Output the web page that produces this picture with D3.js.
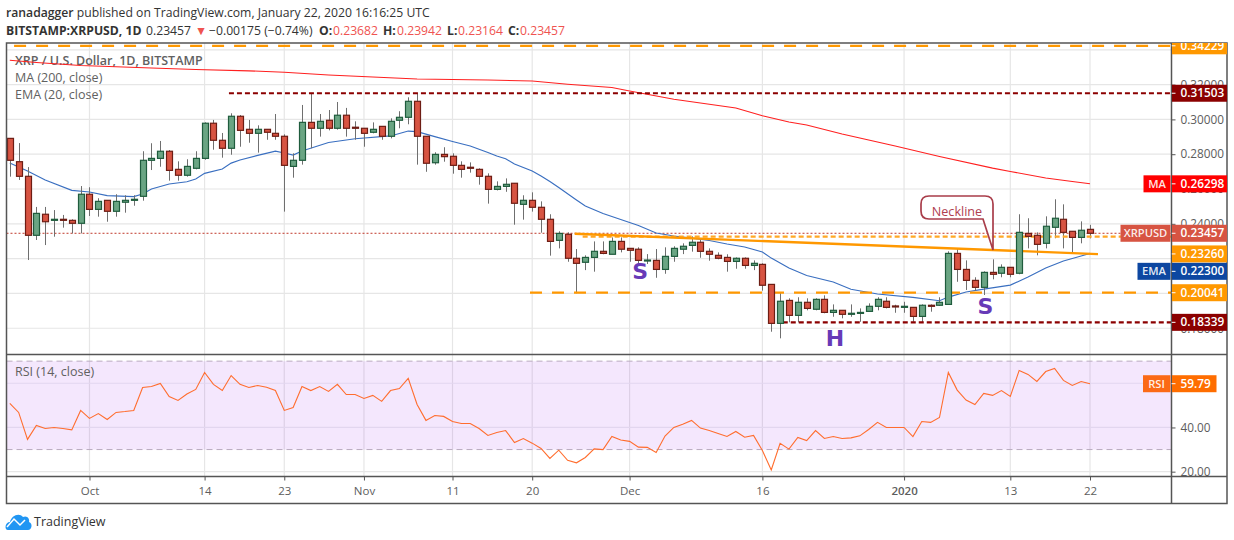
<!DOCTYPE html>
<html>
<head>
<meta charset="utf-8">
<script src="https://cdn.jsdelivr.net/npm/d3@7"></script>
<style>
body { margin: 0; background: #fff; }
svg { display: block; font-family: "Open Sans", sans-serif; }
</style>
</head>
<body>
<svg id="chart" width="1234" height="540"></svg>
<script>
// daily candles, Sep 22 2019 -> Jan 22 2020
var firstDay = "2019-09-22";

var open = [.2891,.2757,.2673,.2334,.2455,.2420,.2426,.2420,.2403,.2570,
  .2483,.2535,.2472,.2524,.2535,.2558,.2765,.2776,.2817,.2713,
  .2679,.2719,.2776,.2978,.2880,.2834,.3018,.2943,.2920,.2943,
  .2920,.2903,.2730,.2765,.2983,.2949,.2995,.2949,.3024,.2955,
  .2949,.2926,.2960,.2903,.2995,.3012,.3104,.2903,.2751,.2799,
  .2788,.2736,.2725,.2713,.2673,.2598,.2615,.2633,.2512,.2535,
  .2495,.2426,.2305,.2340,.2202,.2179,.2207,.2242,.2225,.2299,
  .2259,.2254,.2188,.2190,.2138,.2213,.2254,.2276,.2294,.2242,
  .2219,.2207,.2184,.2202,.2161,.2167,.2052,.1828,.1960,.1874,
  .1949,.1909,.1966,.1891,.1903,.1880,.1886,.1897,.1926,.1955,
  .1928,.1920,.1920,.1868,.1932,.1932,.1937,.2230,.2138,.2075,
  .2035,.2121,.2116,.2150,.2116,.2345,.2334,.2288,.2380,.2426,
  .2357,.2322,.23682];
var high = [.2893,.2864,.2726,.2497,.2497,.2479,.2451,.2426,.2617,.2610,
  .2547,.2535,.2570,.2564,.2564,.2817,.2863,.2876,.2824,.2759,
  .2771,.2817,.2983,.2997,.2922,.3035,.3025,.2997,.2966,.2943,
  .3031,.2914,.2805,.3083,.3152,.3031,.3054,.3100,.3066,.2989,
  .2949,.2983,.2960,.3006,.3047,.3127,.3150,.2903,.2811,.2840,
  .2805,.2759,.2753,.2719,.2690,.2644,.2661,.2633,.2564,.2581,
  .2529,.2455,.2357,.2351,.2255,.2219,.2299,.2299,.2322,.2322,
  .2259,.2265,.2226,.2255,.2265,.2271,.2288,.2328,.2311,.2259,
  .2236,.2225,.2207,.2207,.2190,.2173,.2052,.2006,.1972,.1978,
  .1972,.1972,.1989,.1937,.1903,.1937,.1914,.1943,.1978,.1978,
  .1935,.1952,.1920,.1937,.1937,.1978,.2242,.2259,.2190,.2093,
  .2127,.2196,.2167,.2150,.2455,.2432,.2351,.2443,.2541,.2512,
  .2357,.2414,.23942];
var low = [.2671,.2652,.2192,.2307,.2278,.2326,.2378,.2345,.2345,.2445,
  .2441,.2412,.2441,.2464,.2504,.2533,.2709,.2728,.2648,.2648,
  .2671,.2713,.2768,.2826,.2780,.2797,.2843,.2866,.2809,.2883,
  .2883,.2470,.2665,.2740,.2834,.2901,.2937,.2941,.2901,.2883,
  .2843,.2920,.2883,.2891,.2949,.2972,.2740,.2699,.2740,.2757,
  .2688,.2665,.2694,.2625,.2516,.2592,.2584,.2395,.2424,.2470,
  .2349,.2217,.2259,.2182,.2001,.2134,.2125,.2225,.2225,.2236,
  .2182,.2169,.2169,.2090,.2113,.2182,.2226,.2240,.2205,.2188,
  .2196,.2125,.2142,.2142,.2134,.2016,.1780,.1742,.1834,.1834,
  .1903,.1903,.1886,.1866,.1857,.1866,.1837,.1897,.1903,.1914,
  .1889,.1889,.1837,.1832,.1895,.1928,.1937,.2067,.2020,.2014,
  .1991,.2081,.2093,.2093,.2110,.2259,.2219,.2259,.2317,.2259,
  .2230,.2288,.23164];
var close = [.2765,.2673,.2334,.2460,.2412,.2426,.2420,.2403,.2570,.2483,
  .2529,.2472,.2529,.2535,.2541,.2765,.2776,.2817,.2707,.2679,
  .2730,.2776,.2978,.2880,.2834,.3018,.2937,.2920,.2943,.2926,
  .2903,.2736,.2765,.2983,.2949,.2989,.2949,.3024,.2949,.2949,
  .2920,.2943,.2903,.2989,.3012,.3104,.2903,.2748,.2799,.2786,
  .2736,.2713,.2719,.2673,.2598,.2615,.2627,.2518,.2535,.2495,
  .2426,.2299,.2345,.2202,.2173,.2207,.2242,.2230,.2299,.2254,
  .2248,.2190,.2192,.2138,.2213,.2259,.2271,.2294,.2242,.2225,
  .2202,.2184,.2202,.2161,.2173,.2047,.1828,.1955,.1874,.1949,
  .1914,.1966,.1891,.1903,.1880,.1886,.1891,.1926,.1966,.1920,
  .1924,.1926,.1868,.1932,.1926,.1949,.2230,.2138,.2075,.2035,
  .2121,.2110,.2150,.2110,.2351,.2328,.2282,.2386,.2432,.2351,
  .2322,.2363,.23457];

// moving averages, read at the candle numbers listed
var maDays = [0,3,8,16,21,27,31,36,41,46,54,59,63,68,70,75,78,82,85,88,90,94,100,105,111,113,117,120,122];
var maValues = [.3340,.3327,.3310,.3295,.3287,.3279,.3271,.3255,.3244,.3232,.3226,.3221,.3202,.3183,.3163,
  .3116,.3094,.3066,.3021,.2985,.2968,.2916,.2847,.2787,.2720,.2701,.2663,.2643,.26298];
var emaDays = [0,2,4,7,9,11,14,15,16,18,20,21,22,24,25,26,28,30,31,32,33,36,39,43,44,45,46,48,50,52,54,55,56,57,
  59,60,61,62,64,65,67,69,71,73,75,77,79,81,83,85,86,87,88,90,93,95,98,102,105,106,108,110,113,115,117,119,121,122];
var emaValues = [.2749,.2703,.2652,.2592,.2583,.2562,.2556,.2571,.2600,.2629,.2642,.2657,.2690,.2715,.2749,.2767,
  .2793,.2818,.2807,.2795,.2818,.2867,.2889,.2905,.2919,.2933,.2930,.2901,.2873,.2847,.2810,.2790,.2774,.2744,
  .2703,.2675,.2643,.2609,.2537,.2502,.2459,.2425,.2390,.2347,.2330,.2318,.2304,.2284,.2267,.2238,.2203,.2175,
  .2146,.2103,.2066,.2024,.1997,.1977,.1958,.1979,.2008,.2025,.2048,.2094,.2146,.2186,.2215,.2230];

var rsi = [50.9,46.8,34.6,40.9,39.5,40.0,39.5,38.9,47.7,44.1,46.3,43.6,46.8,47.2,47.7,58.1,58.5,59.9,54.0,52.2,
  55.1,57.2,64.9,59.5,56.7,63.5,59.5,58.1,59.0,58.2,56.7,47.7,49.0,58.5,56.7,58.5,56.3,59.5,54.9,54.9,
  53.1,54.5,51.8,56.7,57.6,62.2,50.4,43.2,45.4,45.0,42.7,41.8,41.8,39.5,36.4,37.7,38.6,33.2,35.0,32.9,
  30.5,26.0,29.7,25.1,24.0,26.4,30.3,30.0,35.9,34.3,33.7,31.1,31.0,28.7,36.1,40.0,41.5,43.2,39.7,38.6,
  37.3,35.9,38.2,35.6,36.4,29.6,20.8,32.8,30.2,35.5,34.1,38.6,35.0,35.9,35.0,35.3,36.2,39.1,42.3,40.0,
  40.0,40.0,35.9,42.7,42.3,44.5,64.9,56.9,52.4,50.4,55.4,54.5,56.7,54.0,65.8,64.0,60.8,65.3,66.7,61.3,
  59.0,60.8,59.79];

var timeTickDays = ["2019-10-01","2019-10-14","2019-10-23","2019-11-01","2019-11-11","2019-11-20","2019-12-01","2019-12-16","2020-01-01","2020-01-13","2020-01-22"];
var timeTickLabels = ["Oct","14","23","Nov","11","20","Dec","16","2020","13","22"];
var priceGrid = [.18,.20,.22,.24,.26,.28,.30,.32,.34];
var priceTicks = [.18,.24,.26,.28,.30,.32]; // the others sit fully under a tag
var rsiGridValues = [20,40,60];
var rsiTicks = [20,40];

// drawn levels
var levelPrices = [.34229,.31503,.20041,.18339,.2326];
var levelStarts = [-2,24.75,58.75,87.3,64.7];
var levelColors = ["#ff9800","#8b0000","#ff9800","#8b0000","#ffa726"];
var levelDashes = ["12,10","5,3","12,10","5,3","5,3"];
var necklineDays = [63.8,122.9];
var necklinePrices = [.2343,.2226];

// right hand scale tags
var tagPrices = [.34229,.31503,.26298,.23457,.2326,.223,.20041,.18339];
var tagShown = [.34229,.31503,.26298,.23457,.2227,.2127,.20041,.18339]; // where the tag sits after stacking
var tagNames = ["","","MA","XRPUSD","","EMA","",""];
var tagColors = ["#ff9800","#8b0000","#ff0000","#d75442","#ff9800","#0d47a1","#ff9800","#8b0000"];
var tagNameWidth = [0,0,27,50,0,33,0,0];

var left = 6.5, right = 1171.5, outer = 1227;
var top_ = 43, mainBottom = 354.5, rsiBottom = 476.5, frameBottom = 503.5;
var gridColor = "#e6e6e6", textColor = "#5d5d5d", frameColor = "#555";

var svg = d3.select("#chart");

var dayMs = 86400000;
var start = new Date(firstDay + "T00:00:00Z");
function dayOf(i) { return new Date(+start + i * dayMs); }
var tickDates = timeTickDays.map(d => new Date(d + "T00:00:00Z"));

var x = d3.scaleUtc().domain([dayOf(0), dayOf(122)]).range([9.8, 1090]);
var y = d3.scaleLinear().domain([.1652, .3439]).range([354, 43]);
var yRsi = d3.scaleLinear().domain([17.9, 73.1]).range([476.3, 354.3]);

svg.append("clipPath").attr("id", "main")
  .append("rect").attr("x", left).attr("y", top_).attr("width", right - left).attr("height", mainBottom - top_);
svg.append("clipPath").attr("id", "scale")
  .append("rect").attr("x", right).attr("y", top_).attr("width", outer - right).attr("height", rsiBottom - top_);

// grid
var grid = svg.append("g").attr("stroke", gridColor).attr("stroke-width", 1.2);
grid.selectAll(".v").data(tickDates).enter().append("line")
  .attr("x1", d => x(d)).attr("x2", d => x(d)).attr("y1", top_).attr("y2", rsiBottom);
grid.selectAll(".h").data(priceGrid).enter().append("line")
  .attr("x1", left).attr("x2", right).attr("y1", d => y(d)).attr("y2", d => y(d));

// rsi band
svg.append("rect")
  .attr("x", left).attr("width", right - left)
  .attr("y", yRsi(70)).attr("height", yRsi(30) - yRsi(70))
  .attr("fill", "#9c27f0").attr("fill-opacity", 0.11);
svg.append("g").attr("stroke-width", 1.2).selectAll("line").data(rsiGridValues).enter().append("line")
  .attr("x1", left).attr("x2", right).attr("y1", d => yRsi(d)).attr("y2", d => yRsi(d))
  .attr("stroke", d => d == 20 ? gridColor : "#e2d6ef");
svg.append("g").selectAll("line").data([30, 70]).enter().append("line")
  .attr("x1", left).attr("x2", right).attr("y1", d => yRsi(d)).attr("y2", d => yRsi(d))
  .attr("stroke", "#b9aabf").attr("stroke-dasharray", "6,4");

// legend text sits under the marks
var legend = svg.append("g").attr("fill", "#616161").attr("font-size", 12.5);
legend.append("text").attr("x", 15).attr("y", 65).attr("font-weight", 600).text("XRP / U.S. Dollar, 1D, BITSTAMP");
legend.append("text").attr("x", 15).attr("y", 82).text("MA (200, close)");
legend.append("text").attr("x", 15).attr("y", 99).text("EMA (20, close)");
legend.append("text").attr("x", 15).attr("y", 376).text("RSI (14, close)");

var marks = svg.append("g").attr("clip-path", "url(#main)");

// last price line
marks.append("line")
  .attr("x1", left).attr("x2", right).attr("y1", y(close[122])).attr("y2", y(close[122]))
  .attr("stroke", "#c0392b").attr("stroke-dasharray", "2,2");

var maLine = d3.line().x((d, i) => x(dayOf(maDays[i]))).y(d => y(d));
marks.append("path").attr("d", maLine(maValues))
  .attr("fill", "none").attr("stroke", "#ff2020").attr("stroke-width", 1.1);

var emaLine = d3.line().x((d, i) => x(dayOf(emaDays[i]))).y(d => y(d));
marks.append("path").attr("d", emaLine(emaValues))
  .attr("fill", "none").attr("stroke", "#3a6fc0").attr("stroke-width", 1.15);

// wicks
marks.append("g").selectAll("line").data(open).enter().append("line")
  .attr("x1", (d, i) => Math.round(x(dayOf(i))) + .5)
  .attr("x2", (d, i) => Math.round(x(dayOf(i))) + .5)
  .attr("y1", (d, i) => y(high[i]))
  .attr("y2", (d, i) => y(low[i]))
  .attr("stroke", "#6f6f6f").attr("stroke-width", 1);

// levels + neckline
marks.append("g").selectAll("line").data(levelPrices).enter().append("line")
  .attr("x1", (d, i) => x(dayOf(levelStarts[i])))
  .attr("x2", right)
  .attr("y1", d => y(d)).attr("y2", d => y(d))
  .attr("stroke", (d, i) => levelColors[i])
  .attr("stroke-dasharray", (d, i) => levelDashes[i])
  .attr("stroke-width", 2.2);
marks.append("line")
  .attr("x1", x(dayOf(necklineDays[0]))).attr("x2", x(dayOf(necklineDays[1])))
  .attr("y1", y(necklinePrices[0])).attr("y2", y(necklinePrices[1]))
  .attr("stroke", "#ff9800").attr("stroke-width", 2.4);

// bodies
marks.append("g").selectAll("rect").data(open).enter().append("rect")
  .attr("x", (d, i) => Math.round(x(dayOf(i))) - 2.5)
  .attr("width", 6)
  .attr("y", (d, i) => y(Math.max(d, close[i])))
  .attr("height", (d, i) => Math.max(1, Math.abs(y(d) - y(close[i]))))
  .attr("fill", (d, i) => close[i] >= d ? "#6aa583" : "#d75442")
  .attr("stroke", (d, i) => close[i] >= d ? "#1f5c3d" : "#6d1d14")
  .attr("stroke-width", 1.2);

// pattern letters
var letters = ["S", "H", "S"];
var letterDays = [71.2, 93.2, 110.2];
var letterPrices = [.2085, .1700, .1880];
svg.append("g").selectAll("text").data(letters).enter().append("text")
  .attr("x", (d, i) => x(dayOf(letterDays[i])))
  .attr("y", (d, i) => y(letterPrices[i]))
  .attr("text-anchor", "middle")
  .attr("font-family", "DejaVu Sans").attr("font-weight", "bold").attr("font-size", 22)
  .attr("fill", "#673ab7").text(d => d);

// callout
svg.append("path")
  .attr("d", "M929,196 H985 Q993,196 993,204 V250 L983,219 H929 Q921,219 921,211 V204 Q921,196 929,196 Z")
  .attr("fill", "#fff").attr("fill-opacity", 0.85)
  .attr("stroke", "#a93d4a").attr("stroke-width", 1.7);
svg.append("text").attr("x", 957).attr("y", 216)
  .attr("text-anchor", "middle").attr("font-size", 12.6).attr("fill", "#b04050").text("Neckline");

// rsi line
var rsiLine = d3.line().x((d, i) => x(dayOf(i))).y(d => yRsi(d));
svg.append("path").attr("d", rsiLine(rsi))
  .attr("fill", "none").attr("stroke", "#ff6d2e").attr("stroke-width", 1.1);

// frame
var frame = svg.append("g").attr("stroke", frameColor).attr("stroke-width", 1.5).attr("fill", "none");
frame.append("rect").attr("x", left).attr("y", top_).attr("width", outer - left).attr("height", frameBottom - top_);
frame.append("line").attr("x1", left).attr("x2", outer).attr("y1", mainBottom).attr("y2", mainBottom);
frame.append("line").attr("x1", left).attr("x2", outer).attr("y1", rsiBottom).attr("y2", rsiBottom);
frame.append("line").attr("x1", right).attr("x2", right).attr("y1", top_).attr("y2", frameBottom);

// axes
var scaleGroup = svg.append("g").attr("clip-path", "url(#scale)");
var priceAxis = d3.axisRight(y).tickValues(priceTicks).tickFormat(d3.format(".5f")).tickSize(4).tickPadding(5);
var priceG = scaleGroup.append("g").attr("transform", "translate(" + right + ",0)").call(priceAxis);
var rsiAxis = d3.axisRight(yRsi).tickValues(rsiTicks).tickFormat(d3.format(".2f")).tickSize(4).tickPadding(5);
var rsiG = scaleGroup.append("g").attr("transform", "translate(" + right + ",0)").call(rsiAxis);
[priceG, rsiG].forEach(function (g) {
  g.select(".domain").remove();
  g.selectAll("line").attr("stroke", frameColor);
  g.selectAll("text").attr("fill", textColor).attr("font-size", 11.8).attr("font-family", "Open Sans");
});

var timeAxis = d3.axisBottom(x).tickValues(tickDates).tickSize(4).tickPadding(6)
  .tickFormat((d, i) => timeTickLabels[i]);
var timeG = svg.append("g").attr("transform", "translate(0," + rsiBottom + ")").call(timeAxis);
timeG.select(".domain").remove();
timeG.selectAll("line").attr("stroke", frameColor);
timeG.selectAll("text").attr("fill", textColor).attr("font-size", 11.5).attr("font-family", "Open Sans")
  .attr("font-weight", (d, i) => timeTickLabels[i] == "2020" ? 600 : 400);

// tags on the scale
var tags = scaleGroup.append("g");
tags.selectAll("rect").data(tagPrices).enter().append("rect")
  .attr("x", right + .5).attr("width", outer - right - .5)
  .attr("y", (d, i) => y(tagShown[i]) - 8.5).attr("height", 17)
  .attr("fill", (d, i) => tagColors[i]);
tags.selectAll(".dash").data(tagPrices).enter().append("line")
  .attr("x1", right).attr("x2", right + 4)
  .attr("y1", (d, i) => y(tagShown[i])).attr("y2", (d, i) => y(tagShown[i]))
  .attr("stroke", "#fff");
tags.selectAll("text").data(tagPrices).enter().append("text")
  .attr("x", right + 9)
  .attr("y", (d, i) => y(tagShown[i]))
  .attr("dy", "0.35em")
  .attr("fill", "#fff").attr("font-size", 11.8).attr("font-weight", 600)
  .text(d => d3.format(".5f")(d));

var nameTags = svg.append("g");
tagNames.forEach(function (name, i) {
  if (!name) return;
  nameTags.append("rect")
    .attr("x", right - 1 - tagNameWidth[i]).attr("width", tagNameWidth[i])
    .attr("y", y(tagShown[i]) - 8.5).attr("height", 17)
    .attr("fill", tagColors[i]);
  nameTags.append("text")
    .attr("x", right - 1 - tagNameWidth[i] / 2).attr("y", y(tagShown[i])).attr("dy", "0.35em")
    .attr("text-anchor", "middle")
    .attr("fill", "#fff").attr("fill-opacity", 0.9).attr("font-size", 11.2).attr("font-weight", 600).text(name);
});

// rsi tag
var rsiLast = rsi[rsi.length - 1];
svg.append("rect").attr("x", 1143).attr("width", right - 1 - 1143)
  .attr("y", yRsi(rsiLast) - 8.5).attr("height", 17).attr("fill", "#fb6a16");
svg.append("text").attr("x", 1156.5).attr("y", yRsi(rsiLast)).attr("dy", "0.35em")
  .attr("text-anchor", "middle").attr("fill", "#fff").attr("fill-opacity", 0.9).attr("font-size", 11.2).attr("font-weight", 600).text("RSI");
svg.append("rect").attr("x", right + .5).attr("width", 1216 - right)
  .attr("y", yRsi(rsiLast) - 8.5).attr("height", 17).attr("fill", "#ff6d00");
svg.append("line").attr("x1", right).attr("x2", right + 4)
  .attr("y1", yRsi(rsiLast)).attr("y2", yRsi(rsiLast)).attr("stroke", "#fff");
svg.append("text").attr("x", right + 9).attr("y", yRsi(rsiLast)).attr("dy", "0.35em")
  .attr("fill", "#fff").attr("font-size", 11.8).attr("font-weight", 600).text(d3.format(".2f")(rsiLast));

// header
var head = svg.append("g").attr("font-size", 12.2).attr("fill", "#333");
var line1 = head.append("text").attr("x", 6).attr("y", 17);
line1.append("tspan").attr("font-weight", 600).text("ranadagger");
line1.append("tspan").text(" published on TradingView.com, January 22, 2020 16:16:25 UTC");

var headRed = "#ef5350";
var headParts = [
  ["BITSTAMP:XRPUSD, 1D", 6, 700, "#333"],
  ["0.23457", 146, 400, "#333"],
  ["▼", 195, 400, headRed],
  ["−0.00175 (−0.74%)", 209, 400, "#333"],
  ["O:", 319, 700, "#333"],
  ["0.23682", 333, 400, headRed],
  ["H:", 383, 700, "#333"],
  ["0.23942", 397, 400, headRed],
  ["L:", 447, 700, "#333"],
  ["0.23164", 458, 400, headRed],
  ["C:", 508, 700, "#333"],
  ["0.23457", 520, 400, headRed]
];
head.selectAll(".part").data(headParts).enter().append("text")
  .attr("x", d => d[1]).attr("y", 34.5)
  .attr("font-weight", d => d[2]).attr("fill", d => d[3])
  .text(d => d[0]);

// logo
var logo = svg.append("g");
logo.append("path")
  .attr("d", "M8,530 C4,530 5,522 10,522 C11,516 19,512 23,517 C27,515 30,519 29,522 C33,523 32,530 28,530 Z")
  .attr("fill", "#2196f3");
logo.append("path")
  .attr("d", "M7,527 L14,519 L20,525 L25,520")
  .attr("fill", "none").attr("stroke", "#fff").attr("stroke-width", 1.5);
svg.append("text").attr("x", 34).attr("y", 526).attr("font-size", 12.5).attr("fill", "#333").text("TradingView");
</script>
</body>
</html>
